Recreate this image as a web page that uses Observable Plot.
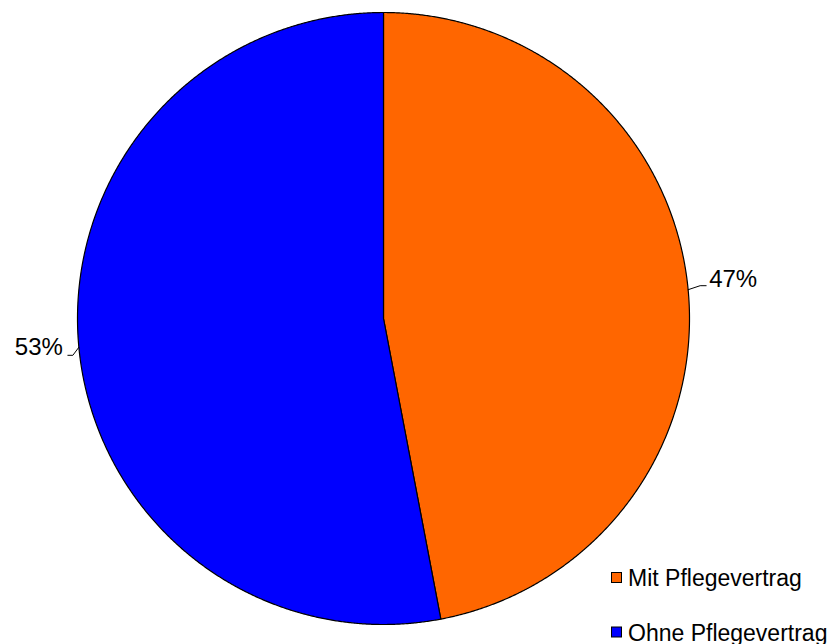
<!DOCTYPE html>
<html>
<head>
<meta charset="utf-8">
<script src="https://cdn.jsdelivr.net/npm/d3@7"></script>
<script src="https://cdn.jsdelivr.net/npm/@observablehq/plot@0.6"></script>
<style>
  html, body { margin: 0; padding: 0; background: #fff; }
  #wrap { position: relative; width: 833px; height: 644px; overflow: hidden; }
  #wrap svg { position: absolute; left: 0; top: 0; }
</style>
</head>
<body>
<div id="wrap"></div>
<script>
// ---- data ----
const categories = ["Mit Pflegevertrag", "Ohne Pflegevertrag"];
const shares = [47, 53];
const labels = ["47%", "53%"];
const colors = ["#FF6600", "#0000FF"];

// ---- layout constants ----
const W = 833, H = 644;
const CX = 383, CY = 318, R = 306;   // pie center / radius in px
const FONT = "'Liberation Sans', Arial, Helvetica, sans-serif";

const rows = categories.map((c, i) => ({cat: c, share: shares[i], label: labels[i]}));
const arcs = d3.pie().sort(null).value(d => d.share)(rows);

const pt = (a, r) => ({x: r * Math.sin(a), y: r * Math.cos(a)});

// slice polygons (center -> arc -> center)
const poly = [];
for (const a of arcs) {
  const step = Math.PI / 720;
  poly.push({cat: a.data.cat, ...pt(0, 0)});
  const n = Math.max(2, Math.ceil((a.endAngle - a.startAngle) / step));
  for (let k = 0; k <= n; k++) {
    const ang = a.startAngle + (a.endAngle - a.startAngle) * k / n;
    poly.push({cat: a.data.cat, ...pt(ang, 1)});
  }
  poly.push({cat: a.data.cat, ...pt(0, 0)});
}

// leader-line elbow offsets (px) by side: right / left
const elbow = {
  right: {dx: 12, dy: -4, run: 6, gap: 3},
  left:  {dx: -6, dy: 8, run: -5, gap: -5}
};

const leaders = [], labelPts = [];
for (const a of arcs) {
  const mid = (a.startAngle + a.endAngle) / 2;
  const side = Math.sin(mid) >= 0 ? 1 : -1;
  const e = side > 0 ? elbow.right : elbow.left;
  const p0 = pt(mid, 1);
  const p1 = {x: p0.x + e.dx / R, y: p0.y - e.dy / R};
  const p2 = {x: p1.x + e.run / R, y: p1.y};
  leaders.push({cat: a.data.cat, ...p0}, {cat: a.data.cat, ...p1}, {cat: a.data.cat, ...p2});
  labelPts.push({cat: a.data.cat, label: a.data.label, side, x: p2.x + e.gap / R, y: p2.y});
}

const chart = Plot.plot({
  width: W, height: H,
  margin: 0,
  x: {domain: [-CX / R, (W - CX) / R], axis: null},
  y: {domain: [-(H - CY) / R, CY / R], axis: null},
  color: {domain: categories, range: colors},
  style: {fontFamily: FONT, background: "white"},
  marks: [
    Plot.line(poly, {x: "x", y: "y", z: "cat", fill: "cat", stroke: "black", strokeWidth: 1.2, curve: "linear", strokeLinejoin: "round"}),
    Plot.line(leaders, {x: "x", y: "y", z: "cat", stroke: "black", strokeWidth: 1, curve: "linear"}),
    Plot.text(labelPts.filter(d => d.side > 0), {x: "x", y: "y", text: "label", textAnchor: "start", lineAnchor: "bottom", dy: 1, fontSize: 24, fill: "black", fontFamily: FONT}),
    Plot.text(labelPts.filter(d => d.side < 0), {x: "x", y: "y", text: "label", textAnchor: "end", lineAnchor: "bottom", fontSize: 24, fill: "black", fontFamily: FONT})
  ]
});
document.getElementById("wrap").appendChild(chart);

// ---- legend (overlay, bottom right) ----
const leg = d3.select("#wrap").append("svg")
  .attr("width", W).attr("height", H)
  .style("pointer-events", "none");
const items = leg.selectAll("g").data(categories).join("g")
  .attr("transform", (d, i) => `translate(611, ${572 + i * 54.5})`);
items.append("rect")
  .attr("x", 0.5).attr("y", 0.5).attr("width", 10).attr("height", 10)
  .attr("fill", (d, i) => colors[i]).attr("stroke", "black").attr("stroke-width", 1);
items.append("text")
  .attr("x", 17).attr("y", 14)
  .attr("font-family", FONT).attr("font-size", 23).attr("fill", "black")
  .text(d => d);
</script>
</body>
</html>
